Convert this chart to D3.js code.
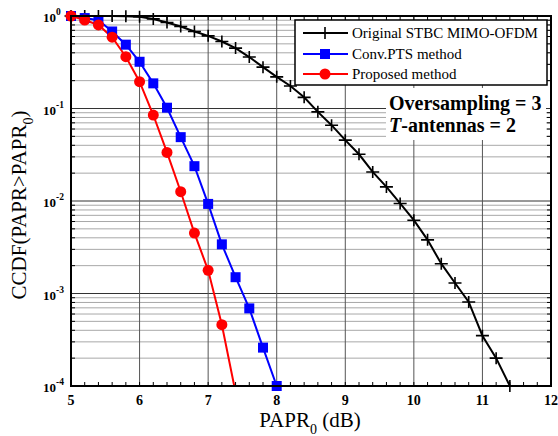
<!DOCTYPE html>
<html><head><meta charset="utf-8">
<script src="https://cdn.jsdelivr.net/npm/d3@7"></script>
<style>body{margin:0;background:#fff}svg{display:block}text{font-family:"Liberation Serif","Times New Roman",serif}</style>
</head><body>
<svg id="c" width="558" height="436"></svg>
<script>
const xOrig = [5.0,5.2,5.4,5.6,5.8,6.0,6.2,6.4,6.6,6.8,7.0,7.2,7.4,7.6,7.8,8.0,8.2,8.4,8.6,8.8,9.0,9.2,9.4,9.6,9.8,10.0,10.2,10.4,10.6,10.8,11.0,11.2,11.4];
const yOrig = [1.0,1.0,1.0,1.0,0.995,0.98,0.93,0.85,0.77,0.68,0.61,0.53,0.45,0.36,0.28,0.22,0.175,0.132,0.092,0.066,0.0455,0.032,0.0206,0.0142,0.0094,0.0062,0.0038,0.0021,0.0013,0.00081,0.00035,0.0002,0.0001];
const xPts = [5.0,5.2,5.4,5.6,5.8,6.0,6.2,6.4,6.6,6.8,7.0,7.2,7.4,7.6,7.8,8.0];
const yPts = [1.0,0.95,0.9,0.68,0.49,0.32,0.187,0.102,0.049,0.0238,0.0093,0.0034,0.0015,0.00069,0.00026,0.0001];
const xProp = [5.0,5.2,5.4,5.6,5.8,6.0,6.2,6.4,6.6,6.8,7.0,7.2,7.4];
const yProp = [1.0,0.905,0.8,0.59,0.363,0.195,0.085,0.0335,0.0126,0.0045,0.00178,0.00046,0.000085];
const xTicks = [5,6,7,8,9,10,11,12];
const yTicksExp = [0,-1,-2,-3,-4];
const legendLabels = ["Original STBC MIMO-OFDM","Conv.PTS method","Proposed method"];
const annot1 = "Oversampling = 3";

const svg = d3.select("#c");
const L=71,R=551,T=16,B=386;
const x = d3.scaleLinear([5,12],[L,R]);
const y = d3.scaleLog([1e-4,1],[B,T]);

svg.append("defs").append("clipPath").attr("id","clip")
  .append("rect").attr("x",L).attr("y",T).attr("width",R-L).attr("height",B-T);

// grid
const minorY=[];
for(let e=-4;e<0;e++) for(let m=2;m<=9;m++) minorY.push(m*Math.pow(10,e));
const g = svg.append("g");
g.selectAll(".my").data(minorY).join("line")
  .attr("x1",L).attr("x2",R).attr("y1",d=>y(d)).attr("y2",d=>y(d))
  .attr("stroke","#a8a8a8").attr("stroke-width",1);
g.selectAll(".My").data(yTicksExp.map(e=>Math.pow(10,e))).join("line")
  .attr("x1",L).attr("x2",R).attr("y1",d=>y(d)).attr("y2",d=>y(d))
  .attr("stroke","#333").attr("stroke-width",1);
g.selectAll(".vx").data(xTicks.slice(1,-1)).join("line")
  .attr("x1",d=>x(d)).attr("x2",d=>x(d)).attr("y1",T).attr("y2",B)
  .attr("stroke","#555").attr("stroke-width",1);

// white box behind annotation
svg.append("rect").attr("x",386).attr("y",88).attr("width",160).attr("height",52).attr("fill","#fff");

// ticks
const xMinor = d3.range(50,121,2).map(v=>v/10);
const tk = svg.append("g").attr("stroke","#000").attr("stroke-width",1);
tk.selectAll(".xb").data(xMinor).join("line")
  .attr("x1",d=>x(d)).attr("x2",d=>x(d)).attr("y1",B).attr("y2",B-4);
tk.selectAll(".xt").data(xMinor).join("line")
  .attr("x1",d=>x(d)).attr("x2",d=>x(d)).attr("y1",T).attr("y2",T+4);
tk.selectAll(".yl").data(minorY).join("line")
  .attr("x1",L).attr("x2",L+4).attr("y1",d=>y(d)).attr("y2",d=>y(d));
tk.selectAll(".yr").data(minorY).join("line")
  .attr("x1",R).attr("x2",R-4).attr("y1",d=>y(d)).attr("y2",d=>y(d));

// series
const line = d3.line().x(d=>x(d[0])).y(d=>y(d[1]));
const plot = svg.append("g").attr("clip-path","url(#clip)");
const orig = xOrig.map((v,i)=>[v,yOrig[i]]);
const pts = xPts.map((v,i)=>[v,yPts[i]]);
const prop = xProp.map((v,i)=>[v,yProp[i]]);

plot.append("path").datum(orig).attr("d",line).attr("fill","none").attr("stroke","#000").attr("stroke-width",2);
const plusPath = "M-6.5,0H6.5M0,-6V6";
svg.append("g").selectAll("path").data(orig).join("path")
  .attr("transform",d=>`translate(${x(d[0])},${y(d[1])})`)
  .attr("d",plusPath).attr("stroke","#000").attr("stroke-width",1.6).attr("fill","none");

plot.append("path").datum(pts).attr("d",line).attr("fill","none").attr("stroke","#0000ff").attr("stroke-width",2);
svg.append("g").selectAll("rect").data(pts).join("rect")
  .attr("x",d=>x(d[0])-5).attr("y",d=>y(d[1])-5).attr("width",10).attr("height",10).attr("fill","#0000ff");

plot.append("path").datum(prop).attr("d",line).attr("fill","none").attr("stroke","#ff0000").attr("stroke-width",2);
svg.append("g").selectAll("circle").data(prop.filter(d=>d[1]>=1e-4)).join("circle")
  .attr("cx",d=>x(d[0])).attr("cy",d=>y(d[1])).attr("r",5.5).attr("fill","#ff0000");

// frame
svg.append("rect").attr("x",L).attr("y",T).attr("width",R-L).attr("height",B-T)
  .attr("fill","none").attr("stroke","#000").attr("stroke-width",2);

// x tick labels
svg.append("g").selectAll("text").data(xTicks).join("text")
  .attr("x",d=>x(d)).attr("y",405).attr("text-anchor","middle")
  .attr("font-size",14).attr("font-weight","bold").text(d=>d);

// y tick labels
const yl = svg.append("g").selectAll("text").data(yTicksExp).join("text")
  .attr("x",43).attr("y",d=>y(Math.pow(10,d))+6).attr("font-size",13).attr("font-weight","bold");
yl.append("tspan").text("10");
yl.append("tspan").attr("dy",-7).attr("font-size",9.5).text(d=>d);

// axis labels
const xl = svg.append("text").attr("x",310).attr("y",427).attr("text-anchor","middle").attr("font-size",21);
xl.append("tspan").text("PAPR");
xl.append("tspan").attr("dy",7).attr("font-size",14).text("0");
xl.append("tspan").attr("dy",-7).text(" (dB)");

const ylab = svg.append("text").attr("transform","translate(26,205) rotate(-90)").attr("text-anchor","middle").attr("font-size",21);
ylab.append("tspan").text("CCDF(PAPR>PAPR");
ylab.append("tspan").attr("dy",7).attr("font-size",14).text("0");
ylab.append("tspan").attr("dy",-7).text(")");

// legend
const lg = svg.append("g");
lg.append("rect").attr("x",295).attr("y",20).attr("width",252).attr("height",65)
  .attr("fill","#fff").attr("stroke","#000").attr("stroke-width",1.5);
const rowsY=[33,54,74], cols=["#000","#0000ff","#ff0000"];
legendLabels.forEach((t,i)=>{
  lg.append("line").attr("x1",303).attr("x2",348).attr("y1",rowsY[i]).attr("y2",rowsY[i])
    .attr("stroke",cols[i]).attr("stroke-width",2);
  if(i===0) lg.append("path").attr("transform",`translate(325,${rowsY[i]})`).attr("d",plusPath)
    .attr("stroke","#000").attr("stroke-width",1.6);
  if(i===1) lg.append("rect").attr("x",320).attr("y",rowsY[i]-5).attr("width",10).attr("height",10).attr("fill",cols[i]);
  if(i===2) lg.append("circle").attr("cx",325).attr("cy",rowsY[i]).attr("r",5.5).attr("fill",cols[i]);
  lg.append("text").attr("x",352).attr("y",rowsY[i]+5).attr("font-size",15).text(t);
});

// annotation
svg.append("text").attr("x",389).attr("y",110).attr("font-size",20).attr("font-weight","bold").text(annot1);
const a2 = svg.append("text").attr("x",389).attr("y",132).attr("font-size",20).attr("font-weight","bold");
a2.append("tspan").attr("font-style","italic").text("T");
a2.append("tspan").text("-antennas = 2");
</script>
</body></html>
